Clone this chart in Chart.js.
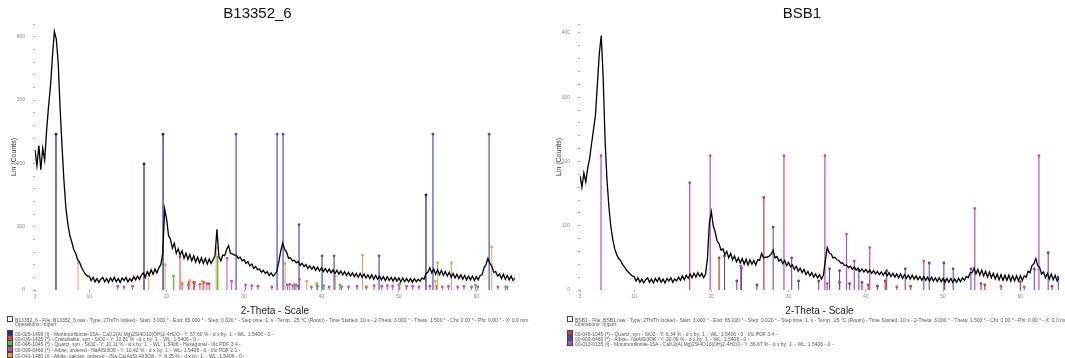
<!DOCTYPE html>
<html>
<head>
<meta charset="utf-8">
<title>XRD patterns B13352_6 / BSB1</title>
<script src="https://cdn.jsdelivr.net/npm/chart.js@4.4.1/dist/chart.umd.min.js"></script>
<style>
  body { margin: 0; width: 1065px; height: 358px; background: #fff; overflow: hidden; position: relative;
         font-family: "Liberation Sans", Arial, sans-serif; }
  canvas { position: absolute; top: 0; }
  #chartB6 { left: 0; }
  #chartBsb { left: 545px; }
  .legend { position: absolute; top: 0; height: 358px; overflow: hidden; }
  #legendB6 { left: 7px; width: 523px; }
  #legendBsb { left: 567px; width: 498px; }
  .legend .row { position: absolute; left: 0; height: 6px; font-size: 5px; line-height: 6px; color: #555; white-space: nowrap; }
  .legend .row.indent { left: 8px; }
  .legend .box { display: inline-block; width: 4px; height: 4px; margin-right: 2px; vertical-align: -0.5px; border: 0.6px solid #444; }
</style>
</head>
<body>
<canvas id="chartB6" width="530" height="318"></canvas>
<canvas id="chartBsb" width="520" height="318"></canvas>
<div class="legend" id="legendB6"></div>
<div class="legend" id="legendBsb"></div>
<script>
// === Scan settings (both samples share the same scan range) ===
const scanStart = 3.0;
const scanStep = 0.25;
const xTickValues = [3, 10, 20, 30, 40, 50, 60];

// === B13352_6 counts, one row per degree (n.00, n.25, n.50, n.75) ===
const b6Counts = [
  221, 196, 228, 190,
  224, 205, 252, 290,
  322, 368, 408, 396,
  358, 285, 225, 170,
  128, 104, 86, 76,
  64, 58, 48, 44,
  36, 30, 25, 22,
  22, 15, 20, 13,
  18, 12, 17, 20,
  13, 18, 12, 19,
  14, 20, 13, 18,
  12, 19, 15, 20,
  13, 18, 14, 21,
  16, 22, 17, 24,
  27, 20, 29, 23,
  32, 25, 33, 27,
  35, 40, 58, 128,
  112, 86, 80, 66,
  74, 58, 65, 55,
  62, 50, 58, 48,
  56, 46, 54, 44,
  52, 43, 51, 42,
  50, 41, 49, 42,
  48, 54, 96, 53,
  46, 55, 54, 64,
  70, 58, 57, 55,
  55, 50, 52, 46,
  48, 42, 45, 38,
  41, 34, 37, 32,
  33, 28, 31, 26,
  29, 23, 27, 22,
  25, 30, 45, 62,
  74, 64, 60, 50,
  51, 46, 47, 43,
  45, 39, 42, 37,
  40, 34, 38, 33,
  37, 31, 36, 30,
  35, 29, 34, 28,
  33, 27, 32, 26,
  31, 25, 30, 24,
  29, 23, 28, 22,
  27, 21, 26, 20,
  26, 20, 25, 19,
  24, 18, 24, 17,
  23, 17, 22, 16,
  21, 15, 21, 15,
  20, 14, 20, 14,
  19, 13, 19, 13,
  18, 13, 18, 12,
  18, 13, 17, 14,
  19, 17, 26, 28,
  35, 27, 33, 25,
  32, 24, 31, 23,
  29, 22, 28, 20,
  26, 19, 25, 18,
  24, 17, 23, 16,
  22, 16, 22, 15,
  21, 16, 23, 24,
  35, 40, 50, 42,
  38, 28, 29, 22,
  25, 18, 25, 17,
  23, 16, 22, 15,
  19
];

// === BSB1 counts ===
const bsbCounts = [
  178, 160, 182, 168,
  190, 205, 228, 250,
  272, 320, 368, 396,
  330, 232, 170, 128,
  98, 78, 64, 55,
  49, 46, 40, 36,
  31, 28, 25, 22,
  21, 14, 19, 12,
  17, 11, 16, 19,
  12, 17, 11, 18,
  13, 19, 12, 17,
  11, 18, 14, 19,
  12, 17, 14, 20,
  15, 22, 16, 23,
  18, 25, 19, 26,
  20, 27, 21, 26,
  19, 25, 50, 105,
  122, 100, 90, 76,
  72, 62, 64, 55,
  60, 50, 57, 47,
  53, 44, 50, 42,
  49, 40, 48, 39,
  47, 40, 46, 39,
  47, 46, 57, 50,
  51, 51, 53, 56,
  62, 50, 52, 45,
  48, 41, 46, 38,
  43, 36, 39, 32,
  37, 29, 34, 27,
  32, 24, 29, 22,
  27, 20, 25, 19,
  24, 17, 23, 45,
  66, 58, 56, 50,
  51, 47, 46, 42,
  42, 38, 39, 35,
  37, 32, 36, 31,
  34, 29, 33, 28,
  32, 27, 31, 26,
  30, 25, 29, 24,
  28, 23, 28, 22,
  27, 21, 26, 20,
  25, 19, 25, 18,
  24, 18, 23, 17,
  23, 17, 22, 16,
  21, 15, 21, 15,
  20, 14, 20, 14,
  19, 13, 19, 13,
  18, 12, 18, 12,
  18, 12, 17, 12,
  18, 13, 19, 15,
  21, 19, 27, 27,
  34, 25, 32, 23,
  31, 22, 29, 20,
  28, 19, 26, 17,
  25, 16, 24, 15,
  23, 15, 23, 14,
  22, 14, 22, 14,
  22, 15, 22, 20,
  29, 27, 38, 41,
  49, 38, 35, 25,
  28, 19, 26, 17,
  25, 16, 23, 14,
  19
];

// === B13352_6 reference sticks (2-Theta, counts) ===
const b6NavyPos = [5.71, 17.08, 19.54, 53.5];
const b6NavyInt = [246, 199, 246, 150];
const b6BluePos = [28.97, 34.27, 35.04, 37.1, 40.08, 41.63, 47.44, 54.4, 61.66];
const b6BlueInt = [246, 246, 246, 103, 54, 54, 54, 246, 246];
const b6OrangePos = [8.56, 17.7, 19.8, 21.9, 23.0, 24.6, 26.4, 35.3, 37.2, 38.1, 41.8, 45.3, 54.7, 55.0, 56.8, 62.0];
const b6OrangeInt = [43, 27, 40, 12, 15, 14, 66, 42, 17, 14, 22, 55, 14, 43, 43, 68];
const b6RedPos = [21.73, 22.9, 23.5, 24.8, 25.5];
const b6RedInt = [52, 12, 12, 12, 10];
const b6GreenPos = [20.9, 26.6, 36.5, 39.4, 40.3, 42.4, 45.8, 50.1, 54.9, 59.9, 64.0];
const b6GreenInt = [22, 52, 8, 10, 7, 8, 5, 10, 6, 8, 5];
const b6MagentaPos = [13.7, 14.5, 15.6, 22.0, 22.8, 23.6, 24.3, 25.2, 27.8, 28.4, 30.2, 31.0, 31.8, 33.6, 35.6, 35.9,
  36.3, 36.7, 37.0, 38.7, 39.5, 41.0, 42.6, 43.5, 44.6, 45.8, 46.8, 47.8, 48.5, 49.2, 50.0, 51.0, 51.8, 52.6, 54.0,
  55.6, 56.4, 57.6, 58.4, 59.4, 60.2, 62.8, 63.8];
const b6MagentaInt = [6, 5, 6, 10, 8, 12, 9, 10, 50, 14, 8, 7, 6, 5, 8, 9,
  7, 8, 6, 5, 6, 5, 5, 5, 6, 5, 7, 6, 7, 6, 8, 6, 6, 5, 6,
  5, 6, 5, 6, 5, 5, 5, 5];

// === BSB1 reference sticks ===
const bsbRedPos = [21.0, 26.8, 36.6, 39.5, 40.3, 42.5, 45.8, 50.2, 54.9, 55.4, 60.0, 64.1];
const bsbRedInt = [50, 144, 12, 12, 8, 14, 6, 15, 10, 8, 13, 6];
const bsbBluePos = [21.7, 23.3, 23.9, 25.9, 28.0, 30.4, 31.3, 33.9, 35.3, 36.6, 37.9, 39.1, 41.5, 42.7, 45.1,
  48.2, 50.1, 51.3, 53.6, 61.8, 63.6, 64.9];
const bsbBlueInt = [53, 14, 34, 8, 98, 50, 14, 14, 33, 30, 10, 30, 6, 30, 33,
  42, 42, 33, 33, 33, 58, 20];
const bsbMagentaPos = [5.72, 17.2, 19.85, 23.8, 29.4, 34.7, 35.0, 37.5, 38.5, 40.5, 44.0, 47.5, 54.1, 57.5, 60.5, 62.4];
const bsbMagentaInt = [209, 167, 209, 37, 209, 209, 10, 87, 45, 66, 5, 45, 127, 6, 5, 209];

// === Legend text under each pattern ===
const b6Legend = [
  { box: "#fff", text: "B13352_6 - File: B13352_6.raw - Type: 2Th/Th locked - Start: 3.000 ° - End: 65.000 ° - Step: 0.020 ° - Step time: 1. s - Temp.: 25 °C (Room) - Time Started: 10 s - 2-Theta: 3.000 ° - Theta: 1.500 ° - Chi: 0.00 ° - Phi: 0.00 ° - X: 0.0 mm - Y: 0.0 mm - Z: 0.0 mm" },
  { box: null, text: "Operations: Import" },
  { box: "#2a2a9a", text: "00-029-1499 (I) - Montmorillonite-15A - Ca0.2(Al,Mg)2Si4O10(OH)2·4H2O - Y: 57.60 % - d x by: 1. - WL: 1.5406 - 0 -" },
  { box: "#e04040", text: "00-039-1425 (*) - Cristobalite, syn - SiO2 - Y: 10.81 % - d x by: 1. - WL: 1.5406 - 0 -" },
  { box: "#5cc040", text: "00-046-1045 (*) - Quartz, syn - SiO2 - Y: 10.11 % - d x by: 1. - WL: 1.5406 - Hexagonal - I/Ic PDF 3.4 -" },
  { box: "#c848c8", text: "00-009-0466 (*) - Albite, ordered - NaAlSi3O8 - Y: 10.42 % - d x by: 1. - WL: 1.5406 - 0 - I/Ic PDF 2.1 -" },
  { box: "#f0a040", text: "00-041-1480 (I) - Albite, calcian, ordered - (Na,Ca)Al(Si,Al)3O8 - Y: 8.35 % - d x by: 1. - WL: 1.5406 - 0 -" }
];
const bsbLegend = [
  { box: "#fff", text: "BSB1 - File: BSB1.raw - Type: 2Th/Th locked - Start: 3.000 ° - End: 65.000 ° - Step: 0.020 ° - Step time: 1. s - Temp.: 25 °C (Room) - Time Started: 10 s - 2-Theta: 3.000 ° - Theta: 1.500 ° - Chi: 0.00 ° - Phi: 0.00 ° - X: 0.0 mm - Y: 0.0 mm - Z: 0.0 mm" },
  { box: null, text: "Operations: Import" },
  { box: "#c04040", text: "00-046-1045 (*) - Quartz, syn - SiO2 - Y: 6.34 % - d x by: 1. - WL: 1.5406 - 0 - I/Ic PDF 3.4 -" },
  { box: "#4848b8", text: "00-009-0466 (*) - Albite - NaAlSi3O8 - Y: 20.09 % - d x by: 1. - WL: 1.5406 - 0 -" },
  { box: "#c048c0", text: "00-013-0135 (I) - Montmorillonite-15A - Ca0.2(Al,Mg)2Si4O10(OH)2·4H2O - Y: 36.67 % - d x by: 1. - WL: 1.5406 - 0 -" }
];

const FONT = "'Liberation Sans', Arial, sans-serif";
const legendRowTops = [316, 321, 330, 335, 340, 346, 352];

// scan counts -> {x, y}
function scanPoints(counts) {
  return counts.map((c, i) => ({ x: scanStart + i * scanStep, y: c }));
}

// one vertical stick per peak, separated by null gaps
function stickPoints(pos, ht) {
  const pts = [];
  pos.forEach((p, i) => {
    pts.push({ x: p, y: 0 }, { x: p, y: ht[i] }, { x: p, y: null });
  });
  return pts;
}

function stickSet(pos, ht, color, width) {
  return {
    data: stickPoints(pos, ht),
    borderColor: color,
    backgroundColor: color,
    borderWidth: width || 1,
    pointRadius: c => (c.dataIndex % 3 === 1 ? 1.4 : 0),
    pointBorderWidth: 0,
    spanGaps: false,
    tension: 0
  };
}

function buildChart(canvasId, title, counts, sticks, yMax, padRight) {
  const datasets = [{
    data: scanPoints(counts),
    borderColor: "#000",
    borderWidth: 1.3,
    pointRadius: 0,
    tension: 0
  }].concat(sticks);

  return new Chart(document.getElementById(canvasId), {
    type: "line",
    data: { datasets },
    options: {
      responsive: false,
      animation: false,
      devicePixelRatio: 1,
      layout: { padding: { left: 0, right: padRight, top: 0, bottom: 0 } },
      plugins: {
        legend: { display: false },
        tooltip: { enabled: false },
        title: {
          display: true,
          text: title,
          color: "#111",
          font: { family: FONT, size: 15, weight: "normal" },
          padding: { top: 5, bottom: 1 }
        }
      },
      scales: {
        x: {
          type: "linear",
          min: 3,
          max: 65,
          afterBuildTicks: s => { s.ticks = xTickValues.map(v => ({ value: v })); },
          afterFit: s => { s.height = 28; },
          ticks: { font: { family: FONT, size: 5 }, color: "#888", maxRotation: 0, autoSkip: false, padding: 2 },
          grid: { drawOnChartArea: false, tickLength: 2, color: "#aaa" },
          border: { display: false },
          title: {
            display: true,
            text: "2-Theta - Scale",
            color: "#222",
            font: { family: FONT, size: 10 },
            padding: { top: 0, bottom: 1 }
          }
        },
        y: {
          min: 0,
          max: yMax,
          afterFit: s => { s.width = 35; },
          ticks: {
            stepSize: 20,
            font: { family: FONT, size: 5 },
            color: "#888",
            padding: 8,
            callback: v => (v % 100 === 0 ? v : "")
          },
          grid: { drawOnChartArea: false, tickLength: 2, color: "#aaa" },
          border: { display: false },
          title: {
            display: true,
            text: "Lin (Counts)",
            color: "#333",
            font: { family: FONT, size: 7 },
            padding: { top: 10, bottom: 0 }
          }
        }
      }
    }
  });
}

function fillLegend(id, rows) {
  const el = document.getElementById(id);
  rows.forEach((r, i) => {
    const row = document.createElement("div");
    row.className = "row" + (r.box === null ? " indent" : "");
    row.style.top = legendRowTops[i] + "px";
    if (r.box !== null) {
      const b = document.createElement("span");
      b.className = "box";
      b.style.background = r.box;
      row.appendChild(b);
    }
    row.appendChild(document.createTextNode(r.text));
    el.appendChild(row);
  });
}

document.addEventListener("DOMContentLoaded", () => {
  // === Left: B13352_6 ===
  buildChart("chartB6", "B13352_6", b6Counts, [
    stickSet(b6NavyPos, b6NavyInt, "#1e1e8a", 1.2),
    stickSet(b6BluePos, b6BlueInt, "#4f4fc0", 1.2),
    stickSet(b6OrangePos, b6OrangeInt, "#f0a040"),
    stickSet(b6RedPos, b6RedInt, "#e04040"),
    stickSet(b6GreenPos, b6GreenInt, "#5cc040", 1.4),
    stickSet(b6MagentaPos, b6MagentaInt, "#c848c8")
  ], 420, 15);

  // === Right: BSB1 ===
  buildChart("chartBsb", "BSB1", bsbCounts, [
    stickSet(bsbMagentaPos, bsbMagentaInt, "#c048c0", 1.2),
    stickSet(bsbRedPos, bsbRedInt, "#b84038", 1.2),
    stickSet(bsbBluePos, bsbBlueInt, "#4848b8")
  ], 414, 6);

  fillLegend("legendB6", b6Legend);
  fillLegend("legendBsb", bsbLegend);
});
</script>
</body>
</html>
